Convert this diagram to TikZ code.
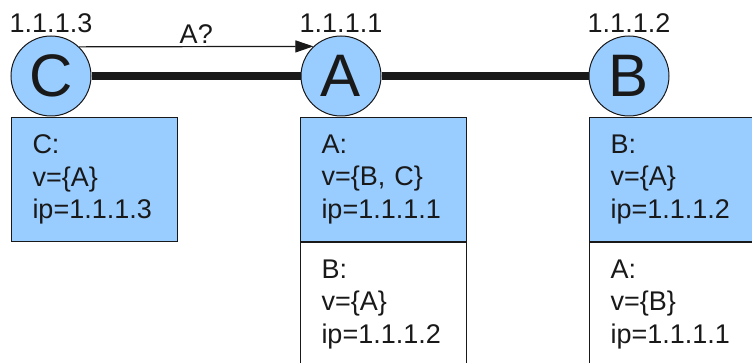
\documentclass[tikz,border=0pt]{standalone}
\usepackage{fontspec}
\setmainfont{Liberation Sans}
\usepackage{tikz}
\usetikzlibrary{positioning,arrows.meta}
\definecolor{colN}{RGB}{153,204,255}
\definecolor{colT}{RGB}{25,25,25}

\begin{document}
\begin{tikzpicture}[
  x=1pt, y=-1pt,
  peer/.style={
    circle, draw=colT, line width=1pt, fill=colN,
    minimum size=80pt, inner sep=0pt,
    font=\fontsize{60}{60}\selectfont, text=colT
  },
  tbl/.style={
    draw=colT, line width=1pt,
    minimum width=166pt, minimum height=124pt,
    text width=124pt, inner xsep=21pt, align=left,
    font=\fontsize{27}{32.5}\selectfont, text=colT
  },
  ip/.style={font=\fontsize{27}{27}\selectfont, text=colT, inner sep=2pt},
  link/.style={line width=8pt, colT},
  ask/.style={-{Triangle[length=18pt,width=12pt]}, line width=1.2pt, colT}
]
\useasboundingbox (0,0) rectangle (752,363);

% peers
\node[peer] (C) at (51,76)  {C};
\node[peer] (A) at (341,76) {A};
\node[peer] (B) at (629,76) {B};

\node[ip,above=1pt of C] (ipC) {1.1.1.3};
\node[ip,above=1pt of A] (ipA) {1.1.1.1};
\node[ip,above=1pt of B] (ipB) {1.1.1.2};

\draw[link] (C) -- (A);
\draw[link] (A) -- (B);

\draw[ask] (C.46.5) -- node[ip,above=1pt] (qA) {A?} (A.133.5);

% routing tables
\node[tbl, fill=colN, anchor=north west] (tC) at (11,117)
  {C:\\v=\{A\}\\ip=1.1.1.3};
\node[tbl, fill=colN, anchor=north west] (tA) at (300,117)
  {A:\\v=\{B, C\}\\ip=1.1.1.1};
\node[tbl, fill=white, below=0pt of tA] (tAB)
  {B:\\v=\{A\}\\ip=1.1.1.2};
\node[tbl, fill=colN, anchor=north west] (tB) at (589,117)
  {B:\\v=\{A\}\\ip=1.1.1.2};
\node[tbl, fill=white, below=0pt of tB] (tBA)
  {A:\\v=\{B\}\\ip=1.1.1.1};

\end{tikzpicture}
\end{document}
